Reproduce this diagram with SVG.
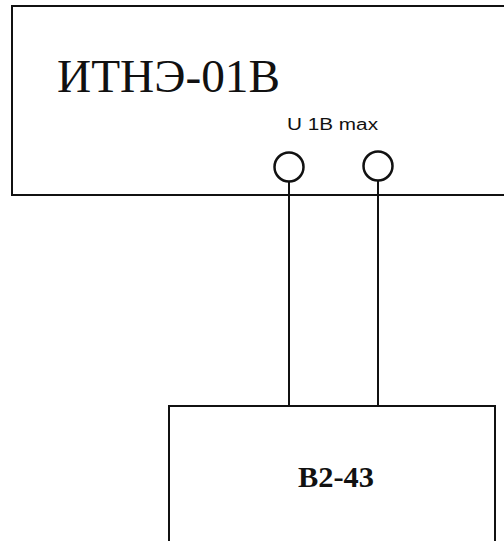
<svg xmlns="http://www.w3.org/2000/svg" width="504" height="541" viewBox="0 0 504 541">
<style>
.box{fill:#fff;stroke:#111;stroke-width:2}
.wire{fill:none;stroke:#111;stroke-width:2}
.term{fill:#fff;stroke:#111;stroke-width:2.5}
.serif{font-family:"Liberation Serif","Times New Roman",serif;fill:#111}
.sans{font-family:"Liberation Sans",Arial,sans-serif;fill:#111}
</style>
<rect width="504" height="541" fill="#fff"/>
<g id="itne">
<rect class="box" x="12" y="6" width="520" height="189"/>
<text class="serif" x="57" y="92" font-size="46" textLength="223" lengthAdjust="spacingAndGlyphs">ИТНЭ-01В</text>
<text class="sans" x="287" y="130" font-size="16" textLength="91" lengthAdjust="spacingAndGlyphs">U 1B max</text>
<circle id="term1" class="term" cx="289" cy="167" r="14.5"/>
<circle id="term2" class="term" cx="378" cy="166" r="14.5"/>
</g>
<g id="connectors">
<line class="wire" x1="289" y1="181.5" x2="289" y2="406"/>
<line class="wire" x1="378" y1="180.5" x2="378" y2="406"/>
</g>
<g id="b2-43">
<rect class="box" x="169" y="406" width="326" height="150"/>
<text class="serif" x="298" y="487" font-size="30" font-weight="bold" textLength="76" lengthAdjust="spacingAndGlyphs">В2-43</text>
</g>
</svg>
